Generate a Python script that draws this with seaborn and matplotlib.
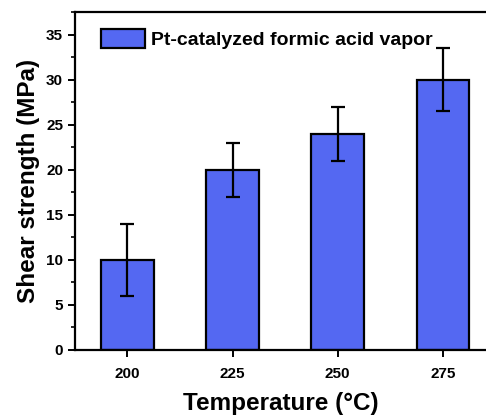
import numpy as np
import pandas as pd
import matplotlib
matplotlib.use("Agg")
import matplotlib.pyplot as plt
from matplotlib.ticker import MultipleLocator
import seaborn as sns

temperatures = ["200", "225", "250", "275"]
shear_strength = [10, 20, 24, 30]
shear_error = [4, 3, 3, 3.5]
series_name = "Pt-catalyzed formic acid vapor"

sns.set_theme(style="white")
plt.rcParams["font.family"] = ["Liberation Sans", "DejaVu Sans"]
plt.rcParams["font.weight"] = "bold"
plt.rcParams.update({
    "text.color": "black",
    "axes.labelcolor": "black",
    "xtick.color": "black",
    "ytick.color": "black",
})

df = pd.DataFrame({"temp": temperatures, "strength": shear_strength})

fig = plt.figure(figsize=(4.86, 4.16), dpi=100)
ax = fig.add_axes([0.154, 0.159, 0.846, 0.812])

bar_color = "#5468f2"
sns.barplot(data=df, x="temp", y="strength", ax=ax, color=bar_color,
            width=0.5, edgecolor="black", linewidth=1.6, saturation=1,
            errorbar=None, label=series_name)
ax.errorbar(np.arange(len(temperatures)), shear_strength, yerr=shear_error,
            fmt="none", ecolor="black", elinewidth=1.6, capsize=5, capthick=1.6)

ax.set_xlim(-0.5, 3.41)
ax.set_ylim(0, 37.5)
ax.yaxis.set_major_locator(MultipleLocator(5))
ax.yaxis.set_minor_locator(MultipleLocator(2.5))

for s in ["left", "bottom", "top"]:
    ax.spines[s].set_color("black")
    ax.spines[s].set_linewidth(1.6)
ax.spines["right"].set_visible(False)

ax.tick_params(axis="both", which="major", direction="out", length=5, width=1.4,
               color="black", labelsize=11, left=True, bottom=True)
ax.tick_params(axis="x", pad=7)
ax.tick_params(axis="y", which="minor", direction="out", length=3, width=1.2,
               color="black", left=True)
for lbl in ax.get_xticklabels() + ax.get_yticklabels():
    lbl.set_fontweight("bold")

ax.set_xlabel("Temperature (°C)", fontsize=17.5, fontweight="bold", labelpad=8)
ax.set_ylabel("Shear strength (MPa)", fontsize=17.5, fontweight="bold", labelpad=4)

leg = ax.legend(loc="upper left", bbox_to_anchor=(0.063, 0.95), frameon=False,
                handlelength=2.27, handleheight=1.15, borderpad=0, borderaxespad=0,
                handletextpad=0.3, prop={"weight": "bold", "size": 14})

fig.savefig("out.png", dpi=100)
